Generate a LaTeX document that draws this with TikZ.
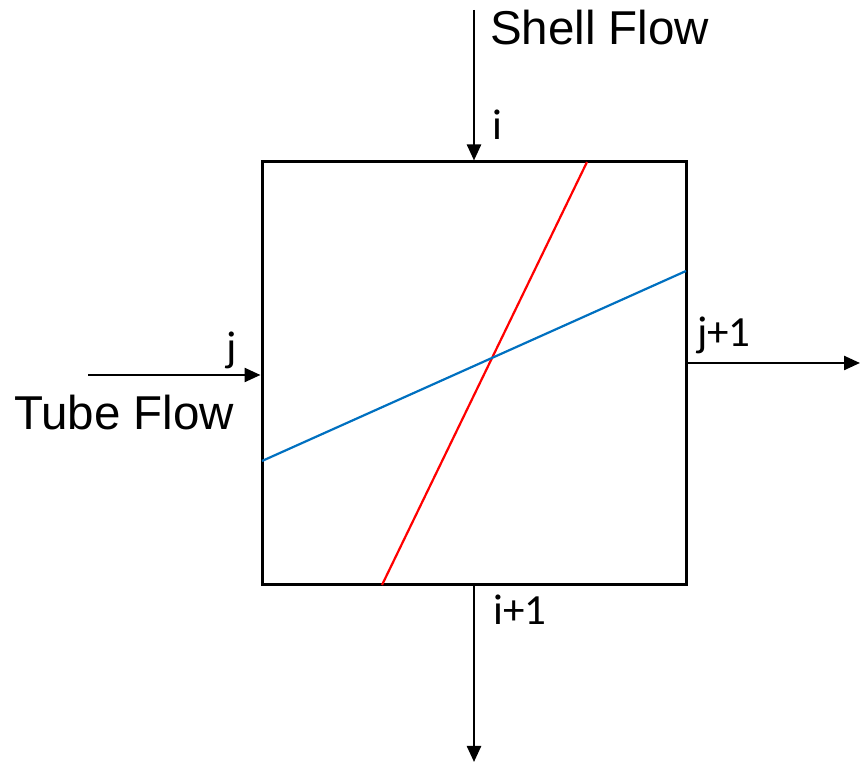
\documentclass[tikz,border=0pt]{standalone}
\usepackage{fontspec}
\setmainfont{Liberation Sans}
\newfontfamily\calfont{Carlito}
\usetikzlibrary{positioning,arrows.meta}
\definecolor{lineblue}{RGB}{0,112,192}
\definecolor{linered}{RGB}{255,0,0}
\begin{document}
\begin{tikzpicture}[x=1pt,y=1pt,>={Triangle[length=16pt,width=14pt]}]
% ---- styles ----
\tikzstyle{cellbox}=[draw,line width=3pt,minimum width=424pt,minimum height=423pt,inner sep=0pt]
\tikzstyle{flow}=[->,line width=2.4pt]
\tikzstyle{bigtxt}=[font=\fontsize{47.5}{50}\selectfont,inner sep=0pt]
\tikzstyle{idx}=[font=\calfont\fontsize{43}{46}\selectfont,inner sep=0pt]

\useasboundingbox (0,0) rectangle (861,767);

% ---- control volume ----
\node[cellbox] (cell) at (474,393.5) {};

% ---- profiles ----
\coordinate (redlo) at (382,182);
\coordinate (redhi) at (587,605);
\coordinate (bluelo) at (262,306);
\coordinate (bluehi) at (686,496);
\draw[linered,line width=2.2pt] (redlo) -- (redhi);
\draw[lineblue,line width=2.2pt] (bluelo) -- (bluehi);

% ---- flows ----
\coordinate (shellin) at (cell.north |- 0,757);
\coordinate (shellout) at (cell.south |- 0,5);
\coordinate (tubein) at (88,392);
\coordinate (tubeend) at (cell.west |- 0,392);
\coordinate (tubestart) at (cell.east |- 0,404);
\coordinate (tubeout) at (860,404);
\draw[flow] (shellin) -- (cell.north);
\draw[flow] (cell.south) -- (shellout);
\draw[flow] (tubein) -- (tubeend);
\draw[flow] (tubestart) -- (tubeout);

% ---- labels ----
\node[bigtxt,anchor=west] (shell) at (490,739) {Shell Flow};
\node[bigtxt,anchor=west] (tube) at (14,354) {Tube Flow};
\node[idx] (ilab) at (497,642) {i};
\node[idx] (jlab) at (232,417) {j};
\node[idx,anchor=west] (jnext) at (697,432) {j+1};
\node[idx,anchor=west] (inext) at (493,157) {i+1};

\end{tikzpicture}
\end{document}
